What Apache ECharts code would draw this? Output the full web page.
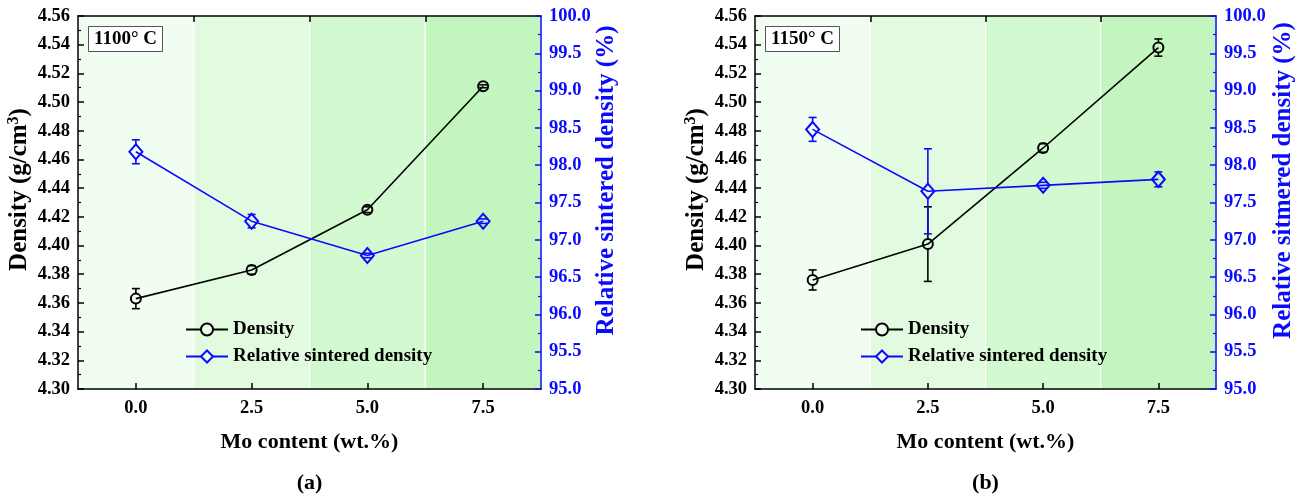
<!DOCTYPE html>
<html>
<head>
<meta charset="utf-8">
<script src="https://cdn.jsdelivr.net/npm/echarts@6.0.0/dist/echarts.min.js"></script>
<style>
  html, body { margin: 0; padding: 0; background: #ffffff; }
  #chart { width: 1303px; height: 502px; }
</style>
</head>
<body>
<div id="chart"></div>
<script>
// Mo content of the samples (wt.%)
const moContent = [0, 2.5, 5, 7.5];
const xTickValues = [0, 2.5, 5, 7.5];
const bandEdges = [-1.25, 1.25, 3.75, 6.25, 8.75];

// Sintered at 1100 °C
const density1100 = [4.363, 4.383, 4.425, 4.511];
const densityErr1100 = [0.007, 0.003, 0.002, 0.001];
const relDensity1100 = [98.18, 97.25, 96.79, 97.25];
const relErr1100 = [0.16, 0.09, 0.03, 0.03];

// Sintered at 1150 °C
const density1150 = [4.376, 4.401, 4.468, 4.538];
const densityErr1150 = [0.007, 0.026, 0.003, 0.006];
const relDensity1150 = [98.48, 97.65, 97.73, 97.81];
const relErr1150 = [0.16, 0.57, 0.04, 0.10];

const FONT = '"Liberation Serif", "Times New Roman", serif';
const BLACK = '#000000';
const BLUE = '#0a0aff';
const bandColors = ['#f1fdf0', '#e2fbe0', '#d3f9d0', '#c3f6bf'];

const chart = echarts.init(document.getElementById('chart'), null, { renderer: 'canvas' });

const grids = [
  { left: 78, top: 16, width: 463, height: 373 },
  { left: 755, top: 16, width: 461, height: 373 }
];

function bandSeries(gi) {
  const data = [];
  for (let i = 0; i < bandEdges.length - 1; i++) data.push([bandEdges[i], bandEdges[i + 1], i]);
  return {
    type: 'custom',
    name: 'bands',
    xAxisIndex: gi * 2,
    yAxisIndex: gi * 2,
    silent: true,
    z: 0,
    data: data,
    renderItem: function (params, api) {
      const p0 = api.coord([api.value(0), 4.56]);
      const p1 = api.coord([api.value(1), 4.30]);
      return {
        type: 'rect',
        shape: { x: p0[0], y: p0[1], width: p1[0] - p0[0], height: p1[1] - p0[1] },
        style: { fill: bandColors[api.value(2)], stroke: '#ffffff', lineWidth: 1 }
      };
    }
  };
}

// Vertical error bars with caps; the stem stops at the marker outline
function errorSeries(gi, yIdx, vals, errs, color, gap) {
  return {
    type: 'custom',
    name: 'error bars',
    xAxisIndex: gi * 2,
    yAxisIndex: yIdx,
    silent: true,
    z: 3,
    data: moContent.map((x, i) => [x, vals[i], errs[i]]),
    renderItem: function (params, api) {
      const x = api.value(0), y = api.value(1), e = api.value(2);
      const c = api.coord([x, y]);
      const t = api.coord([x, y + e]);
      const b = api.coord([x, y - e]);
      const style = { stroke: color, lineWidth: 1.6 };
      const children = [
        { type: 'line', shape: { x1: c[0] - 4, y1: t[1], x2: c[0] + 4, y2: t[1] }, style: style },
        { type: 'line', shape: { x1: c[0] - 4, y1: b[1], x2: c[0] + 4, y2: b[1] }, style: style }
      ];
      if (t[1] < c[1] - gap) children.push({ type: 'line', shape: { x1: c[0], y1: t[1], x2: c[0], y2: c[1] - gap }, style: style });
      if (b[1] > c[1] + gap) children.push({ type: 'line', shape: { x1: c[0], y1: c[1] + gap, x2: c[0], y2: b[1] }, style: style });
      return { type: 'group', children: children };
    }
  };
}

function lineSeries(name, gi, yIdx, vals, color, symbol, size) {
  return {
    type: 'line',
    name: name,
    xAxisIndex: gi * 2,
    yAxisIndex: yIdx,
    z: 4,
    symbol: symbol,
    symbolSize: size,
    showAllSymbol: true,
    data: moContent.map((x, i) => [x, vals[i]]),
    lineStyle: { color: color, width: 1.6 },
    itemStyle: { color: 'rgba(0,0,0,0)', borderColor: color, borderWidth: 2 },
    emphasis: { disabled: true },
    animation: false
  };
}

function xAxes(gi) {
  return [
    {
      gridIndex: gi, type: 'value', min: -1.25, max: 8.75, position: 'bottom',
      name: 'Mo content (wt.%)', nameLocation: 'middle', nameGap: 42,
      nameTextStyle: { fontFamily: FONT, fontWeight: 'bold', fontSize: 22, color: BLACK },
      axisLine: { show: true, onZero: false, lineStyle: { color: BLACK, width: 1.5 } },
      axisTick: { show: true, inside: true, length: 6, customValues: xTickValues, lineStyle: { color: BLACK, width: 1.5 } },
      axisLabel: { show: true, customValues: xTickValues, margin: 10, formatter: v => v.toFixed(1),
        fontFamily: FONT, fontWeight: 'bold', fontSize: 18.5, color: BLACK },
      splitLine: { show: false }
    },
    {
      gridIndex: gi, type: 'value', min: -1.25, max: 8.75, position: 'top',
      axisLine: { show: true, onZero: false, lineStyle: { color: BLACK, width: 1.5 } },
      axisTick: { show: true, inside: true, length: 6, customValues: [1.25, 3.75, 6.25], lineStyle: { color: BLACK, width: 1.5 } },
      axisLabel: { show: false },
      splitLine: { show: false }
    }
  ];
}

function yAxes(gi, relName, relGap) {
  return [
    {
      gridIndex: gi, type: 'value', min: 4.30, max: 4.56, interval: 0.02, position: 'left',
      name: '{a|Density (g/cm}{s|3}{a|)}', nameLocation: 'middle', nameGap: 44, nameRotate: 90,
      nameTextStyle: {
        padding: [0, 0, 0, 26],
        rich: {
          a: { fontFamily: FONT, fontWeight: 'bold', fontSize: 25, color: BLACK },
          s: { fontFamily: FONT, fontWeight: 'bold', fontSize: 16, color: BLACK, padding: [0, 0, 12, 0] }
        }
      },
      axisLine: { show: true, onZero: false, lineStyle: { color: BLACK, width: 1.5 } },
      axisTick: { show: true, inside: true, length: 6, lineStyle: { color: BLACK, width: 1.5 } },
      minorTick: { show: true, splitNumber: 2, length: 3, lineStyle: { color: BLACK, width: 1.2 } },
      axisLabel: { margin: 8, formatter: v => v.toFixed(2), fontFamily: FONT, fontWeight: 'bold', fontSize: 18.5, color: BLACK },
      splitLine: { show: false }
    },
    {
      gridIndex: gi, type: 'value', min: 95, max: 100, interval: 0.5, position: 'right',
      name: relName, nameLocation: 'middle', nameGap: relGap, nameRotate: 90,
      nameTextStyle: { fontFamily: FONT, fontWeight: 'bold', fontSize: 25, color: BLUE, padding: [0, 0, 0, 44] },
      axisLine: { show: true, onZero: false, lineStyle: { color: BLUE, width: 1.5 } },
      axisTick: { show: true, inside: true, length: 6, lineStyle: { color: BLUE, width: 1.5 } },
      minorTick: { show: true, splitNumber: 2, length: 3, lineStyle: { color: BLUE, width: 1.2 } },
      axisLabel: { margin: 8, formatter: v => v.toFixed(1), fontFamily: FONT, fontWeight: 'bold', fontSize: 18.5, color: BLUE },
      splitLine: { show: false }
    }
  ];
}

function legend(left) {
  return {
    left: left, top: 315, orient: 'vertical', itemWidth: 42, itemHeight: 15, itemGap: 8,
    selectedMode: false,
    data: ['Density', 'Relative sintered density'],
    itemStyle: { color: '#ecfceb' },
    textStyle: { fontFamily: FONT, fontWeight: 'bold', fontSize: 19, color: BLACK }
  };
}

function tempBox(text, left) {
  return {
    text: text, left: left, top: 26, padding: [4, 6, 3, 6],
    borderColor: '#555555', borderWidth: 1, backgroundColor: '#ffffff',
    textStyle: { fontFamily: FONT, fontWeight: 'bold', fontSize: 19, color: BLACK }
  };
}

const option = {
  backgroundColor: '#ffffff',
  animation: false,
  grid: grids,
  title: [tempBox('1100° C', 88), tempBox('1150° C', 765)],
  legend: [legend(180), legend(855)],
  xAxis: [].concat(xAxes(0), xAxes(1)),
  yAxis: [].concat(yAxes(0, 'Relative sintered density (%)', 53), yAxes(1, 'Relative sitmered density (%)', 55)),
  graphic: [
    { type: 'text', x: 309.5, y: 472, style: { text: '(a)', fontFamily: FONT, fontWeight: 'bold', fontSize: 22, fill: BLACK, textAlign: 'center' } },
    { type: 'text', x: 985.5, y: 472, style: { text: '(b)', fontFamily: FONT, fontWeight: 'bold', fontSize: 22, fill: BLACK, textAlign: 'center' } }
  ],
  series: [
    bandSeries(0),
    bandSeries(1),
    errorSeries(0, 0, density1100, densityErr1100, BLACK, 5),
    errorSeries(0, 1, relDensity1100, relErr1100, BLUE, 7),
    lineSeries('Density', 0, 0, density1100, BLACK, 'circle', 10),
    lineSeries('Relative sintered density', 0, 1, relDensity1100, BLUE, 'diamond', [13, 15]),
    errorSeries(1, 2, density1150, densityErr1150, BLACK, 5),
    errorSeries(1, 3, relDensity1150, relErr1150, BLUE, 7),
    lineSeries('Density', 1, 2, density1150, BLACK, 'circle', 10),
    lineSeries('Relative sintered density', 1, 3, relDensity1150, BLUE, 'diamond', [13, 15])
  ]
};

chart.setOption(option);
</script>
</body>
</html>
